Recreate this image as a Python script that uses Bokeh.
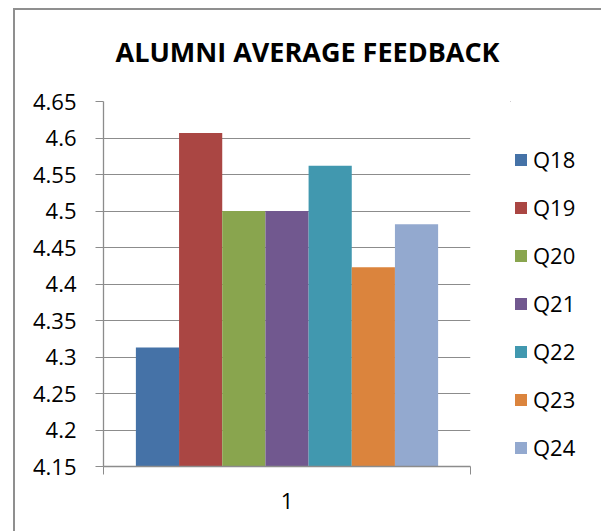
from bokeh.plotting import figure
from bokeh.layouts import row
from bokeh.models import ColumnDataSource, FixedTicker, Legend, LegendItem, Range1d
from bokeh.embed import file_html
from bokeh.resources import INLINE

# ---- data ----
title_text = "ALUMNI AVERAGE FEEDBACK"
category = "1"
series = ["Q18", "Q19", "Q20", "Q21", "Q22", "Q23", "Q24"]
values = [4.313, 4.607, 4.500, 4.500, 4.562, 4.423, 4.482]
colors = ["#4572A7", "#AA4643", "#89A54E", "#71588F", "#4198AF", "#DB843D", "#93A9CF"]
y_ticks = [4.15, 4.2, 4.25, 4.3, 4.35, 4.4, 4.45, 4.5, 4.55, 4.6, 4.65]
y_tick_labels = ["4.15", "4.2", "4.25", "4.3", "4.35", "4.4", "4.45", "4.5", "4.55", "4.6", "4.65"]

FONT = "Open Sans"
GRAY = "#8c8c8c"
EDGE = "#8f8f8f"

# Excel-like clustered layout: gap width 150% of a bar
n = len(series)
bar_w = 1.0 / (n + 1.5)
xs = [0.5 + (i - (n - 1) / 2) * bar_w for i in range(n)]

src = ColumnDataSource(dict(x=xs, top=values, name=series, color=colors,
                            bottom=[y_ticks[0]] * n))

# ---- main chart ----
p = figure(width=510, height=531, output_backend="svg", toolbar_location=None,
           x_range=Range1d(0, 1), y_range=Range1d(y_ticks[0], y_ticks[-1]),
           min_border_left=103, min_border_right=40, min_border_top=100, min_border_bottom=65,
           title=title_text)
p.styles = {"background": f"linear-gradient({EDGE}, {EDGE}) 13px 8px / 2px 100% no-repeat, "
                          f"linear-gradient({EDGE}, {EDGE}) 13px 8px / 100% 2px no-repeat, white"}
p.outline_line_color = None
p.background_fill_color = "white"
p.border_fill_color = None

r = p.vbar(x="x", top="top", bottom="bottom", width=bar_w, fill_color="color",
           line_color=None, source=src)

# y axis
p.yaxis.ticker = FixedTicker(ticks=y_ticks)
p.yaxis.major_label_overrides = {t: l for t, l in zip(y_ticks, y_tick_labels)}
p.yaxis.axis_line_color = GRAY
p.yaxis.axis_line_width = 1.3
p.yaxis.major_tick_line_color = GRAY
p.yaxis.major_tick_out = 8
p.yaxis.major_tick_in = 0
p.yaxis.minor_tick_line_color = None
p.yaxis.major_label_standoff = 19
p.yaxis.major_label_text_font = FONT
p.yaxis.major_label_text_font_size = "22px"
p.yaxis.major_label_text_color = "black"
p.ygrid.ticker = FixedTicker(ticks=y_ticks)
p.ygrid.grid_line_color = GRAY
p.ygrid.grid_line_width = 1

# x axis
p.xaxis.ticker = FixedTicker(ticks=[0.5], minor_ticks=[0, 1])
p.xaxis.major_label_overrides = {0.5: category}
p.xaxis.axis_line_color = GRAY
p.xaxis.axis_line_width = 1.3
p.xaxis.major_tick_out = 0
p.xaxis.major_tick_in = 0
p.xaxis.minor_tick_line_color = GRAY
p.xaxis.minor_tick_out = 8
p.xaxis.minor_tick_in = 0
p.xaxis.major_label_standoff = 18
p.xaxis.major_label_text_font = FONT
p.xaxis.major_label_text_font_size = "22px"
p.xaxis.major_label_text_color = "black"
p.xgrid.grid_line_color = None

# title
p.title.align = "left"
p.title.offset = 12
p.title.vertical_align = "middle"
p.title.standoff = 62
p.title.text_font = FONT
p.title.text_font_size = "27px"
p.title.text_font_style = "bold"
p.title.text_color = "black"

# ---- legend strip (same data, bars kept outside its visible range) ----
lf = figure(width=91, height=531, output_backend="svg", toolbar_location=None,
            x_range=Range1d(2, 3), y_range=Range1d(0, 1),
            x_axis_type=None, y_axis_type=None,
            min_border_left=0, min_border_right=0, min_border_top=0, min_border_bottom=0)
lf.styles = {"background": f"linear-gradient({EDGE}, {EDGE}) 0 8px / 100% 2px no-repeat, white"}
lf.outline_line_color = None
lf.background_fill_color = None
lf.border_fill_color = None
lf.grid.visible = False
lr = lf.vbar(x="x", top="top", bottom="bottom", width=bar_w, fill_color="color",
             line_color=None, source=src)

items = [LegendItem(label=s, renderers=[lr], index=i) for i, s in enumerate(series)]
legend = Legend(items=items, location=(3, 4), padding=0, margin=0,
                border_line_color=None, background_fill_alpha=0,
                glyph_width=15, glyph_height=15, label_standoff=5, spacing=18,
                label_text_font=FONT, label_text_font_size="22px", label_text_color="black")
lf.add_layout(legend)

layout = row(p, lf, spacing=0)
open("out.html", "w").write(file_html(layout, INLINE))
